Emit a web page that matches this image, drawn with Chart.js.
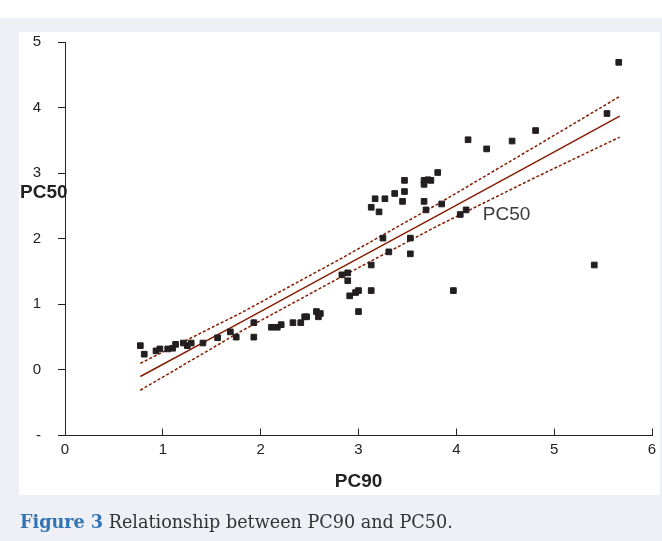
<!DOCTYPE html>
<html>
<head>
<meta charset="utf-8">
<script src="https://cdn.jsdelivr.net/npm/chart.js@4.4.1/dist/chart.umd.min.js"></script>
<style>
  body { margin: 0; background: #fff; }
  #bg { position: absolute; left: 0; top: 18px; width: 662px; height: 523px; background: #eef0f6; }
  #panel { position: absolute; left: 19px; top: 32px; width: 641px; height: 463px; background: #fff; }
  #wrap { position: absolute; left: 0; top: 0; width: 662px; height: 541px; }
  #cap { position: absolute; left: 20px; top: 511px; font-family: 'DejaVu Serif', serif; font-size: 17.6px; color: #333; white-space: nowrap; }
  #cap b { color: #2f74b5; }
</style>
</head>
<body>
<div id="bg"></div>
<div id="panel"></div>
<div id="wrap"><canvas id="chart"></canvas></div>
<div id="cap"><b>Figure 3</b> Relationship between PC90 and PC50.</div>
<script>
// observed points (PC90, PC50)
const pc90 = [0.77, 0.81, 0.93, 0.97, 1.05, 1.10, 1.13, 1.21, 1.25, 1.29, 1.41, 1.56, 1.69, 1.75, 1.93, 1.93,
  2.11, 2.17, 2.21, 2.33, 2.41, 2.45, 2.47, 2.57, 2.59, 2.61, 2.83, 2.89, 2.89, 2.91, 2.97, 3.00, 3.00,
  3.13, 3.13, 3.25, 3.31, 3.53, 3.53, 3.13, 3.17, 3.21, 3.27, 3.37, 3.45, 3.47, 3.47, 3.67, 3.69, 3.67,
  3.67, 3.71, 3.74, 3.81, 3.85, 3.97, 4.04, 4.10, 4.12, 4.31, 4.57, 4.81, 5.41, 5.54, 5.66];
const pc50 = [0.37, 0.24, 0.29, 0.32, 0.32, 0.33, 0.39, 0.41, 0.37, 0.41, 0.41, 0.49, 0.58, 0.50, 0.50, 0.72,
  0.65, 0.65, 0.69, 0.72, 0.72, 0.81, 0.81, 0.89, 0.81, 0.86, 1.45, 1.48, 1.36, 1.13, 1.18, 1.21, 0.89,
  1.60, 1.21, 2.01, 1.80, 2.01, 1.77, 2.48, 2.61, 2.41, 2.61, 2.69, 2.57, 2.72, 2.89, 2.57, 2.44, 2.83,
  2.89, 2.90, 2.89, 3.01, 2.53, 1.21, 2.37, 2.44, 3.51, 3.37, 3.49, 3.65, 1.60, 3.91, 4.69];

// fitted line and its band
const fitX = [0.77, 1.8, 2.8, 3.8, 4.8, 5.67];
const fitY = [-0.10, 0.73, 1.54, 2.35, 3.16, 3.87];
const upperY = [0.10, 0.87, 1.68, 2.52, 3.40, 4.17];
const lowerY = [-0.31, 0.59, 1.40, 2.19, 2.93, 3.55];

const xTicks = [0, 1, 2, 3, 4, 5, 6];
const yTicks = [-1, 0, 1, 2, 3, 4, 5];
const seriesLabel = { text: 'PC50', x: 4.27, y: 2.37 };

const lineColor = '#861d00';
const pts = (xs, ys) => xs.map((x, i) => ({ x: x, y: ys[i] }));

const textPlugin = {
  id: 'texts',
  afterDraw(chart) {
    const ctx = chart.ctx;
    const xs = chart.scales.x, ys = chart.scales.y;
    ctx.save();
    ctx.fillStyle = '#222';
    ctx.textBaseline = 'middle';
    ctx.font = 'bold 19px "Liberation Sans", Arial, sans-serif';
    ctx.textAlign = 'left';
    ctx.fillText('PC50', 20, 193);
    ctx.textAlign = 'center';
    ctx.fillText('PC90', (chart.chartArea.left + chart.chartArea.right) / 2, 482);
    ctx.font = '19px "Liberation Sans", Arial, sans-serif';
    ctx.fillStyle = '#3a3a3a';
    ctx.textAlign = 'left';
    ctx.fillText(seriesLabel.text, xs.getPixelForValue(seriesLabel.x), ys.getPixelForValue(seriesLabel.y));
    ctx.restore();
  }
};

const ctx = document.getElementById('chart');
new Chart(ctx, {
  type: 'scatter',
  data: {
    datasets: [{
      label: 'PC50',
      data: pts(pc90, pc50),
      pointStyle: 'rect',
      pointRadius: 4,
      backgroundColor: '#231f20',
      borderColor: '#231f20',
      borderWidth: 1
    }, {
      label: 'fit',
      data: pts(fitX, fitY),
      showLine: true,
      pointRadius: 0,
      borderColor: lineColor,
      borderWidth: 1.5
    }, {
      label: 'upper',
      data: pts(fitX, upperY),
      showLine: true,
      pointRadius: 0,
      borderColor: lineColor,
      borderWidth: 1.5,
      borderDash: [3, 2]
    }, {
      label: 'lower',
      data: pts(fitX, lowerY),
      showLine: true,
      pointRadius: 0,
      borderColor: lineColor,
      borderWidth: 1.5,
      borderDash: [3, 2]
    }]
  },
  options: {
    responsive: true,
    maintainAspectRatio: false,
    animation: false,
    layout: { padding: { left: 0, top: 42, right: 10, bottom: 0 } },
    plugins: {
      legend: { display: false },
      tooltip: { enabled: false }
    },
    scales: {
      x: {
        type: 'linear',
        min: 0,
        max: 6,
        afterFit(scale) {
          scale.height = 105.5;
          scale.paddingLeft = 0;
          scale.paddingRight = 4;
        },
        afterBuildTicks(scale) { scale.ticks = xTicks.map(v => ({ value: v })); },
        ticks: {
          padding: 12,
          color: '#222',
          font: { size: 15, family: '"Liberation Sans", Arial, sans-serif' }
        },
        grid: { drawOnChartArea: false, tickLength: -7, color: '#222' },
        border: { color: '#222', width: 1 }
      },
      y: {
        min: -1,
        max: 5,
        afterFit(scale) { scale.width = 65; },
        afterBuildTicks(scale) { scale.ticks = yTicks.map(v => ({ value: v })); },
        ticks: {
          padding: 17,
          color: '#222',
          font: { size: 15, family: '"Liberation Sans", Arial, sans-serif' },
          callback: v => (v < 0 ? '-' : v)
        },
        grid: { drawOnChartArea: false, tickLength: 7, color: '#222' },
        border: { color: '#222', width: 1 }
      }
    }
  },
  plugins: [textPlugin]
});
</script>
</body>
</html>
